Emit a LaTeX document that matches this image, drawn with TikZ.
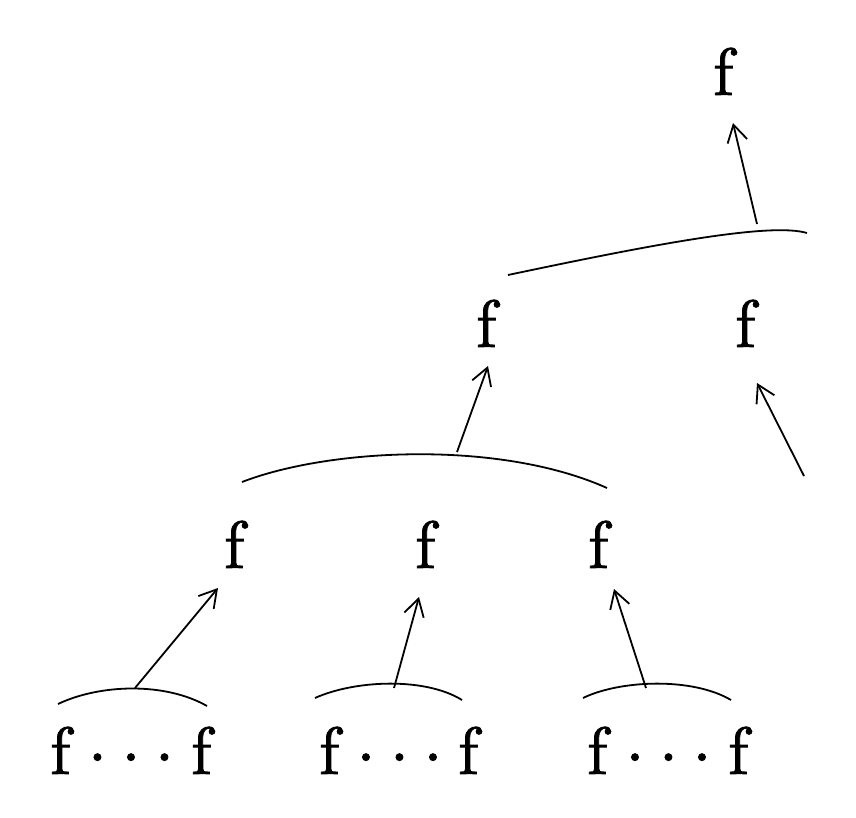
\documentclass[tikz,border=0pt]{standalone}
\usepackage{fontspec}
\setmainfont{lmroman10-regular}[Extension=.otf,FakeBold=1.2]
\usetikzlibrary{arrows.meta}
\newcommand{\rdot}{\raisebox{13.3pt}{.}}
\newcommand{\threedots}{\rdot\hspace{14.9pt}\rdot\hspace{14.9pt}\rdot}
\begin{document}
\begin{tikzpicture}[x=1pt,y=-1pt,
  lbl/.style={inner sep=0pt,outer sep=0pt,anchor=base west,font=\fontsize{67}{70}\selectfont},
  dotl/.style={inner sep=0pt,outer sep=0pt,anchor=base,font=\fontsize{67}{70}\selectfont},
  arc/.style={line width=1.8pt},
  up/.style={line width=1.8pt,-{Straight Barb[length=17pt,width=20pt,line width=1.8pt]}}]
\useasboundingbox (0,0) rectangle (856,818);
% labels
\node[lbl] (top) at (713,95) {f};
\node[lbl] (m1) at (476,347) {f};
\node[lbl] (m2) at (735,347) {f};
\node[lbl] (l1) at (224,568) {f};
\node[lbl] (l2) at (415,568) {f};
\node[lbl] (l3) at (588,568) {f};
% bottom rows
\node[lbl] (b1a) at (50,774) {f};
\node[dotl] (b1d) at (131,774) {\threedots};
\node[lbl] (b1b) at (191,774) {f};
\node[lbl] (b2a) at (319,774) {f};
\node[dotl] (b2d) at (399.5,774) {\threedots};
\node[lbl] (b2b) at (458,774) {f};
\node[lbl] (b3a) at (587,774) {f};
\node[dotl] (b3d) at (668.5,774) {\threedots};
\node[lbl] (b3b) at (728,774) {f};
% arcs
\draw[arc] (508,275) .. controls (650,245) and (770,222) .. (807,233);
\draw[arc] (242,482) .. controls (330,448) and (500,440) .. (607,488);
\draw[arc] (58,704) .. controls (100,684) and (165,682) .. (207,706);
\draw[arc] (315,698) .. controls (355,680) and (425,677) .. (462,700);
\draw[arc] (583,698) .. controls (620,680) and (692,677) .. (731,700);
% arrow ends
\coordinate (t0) at (757,224); \coordinate (h0) at (733,123);
\coordinate (t1) at (457,452); \coordinate (h1) at (488,366);
\coordinate (t2) at (804,476); \coordinate (h2) at (757,383);
\coordinate (t3) at (135,688); \coordinate (h3) at (218,588);
\coordinate (t4) at (394,688); \coordinate (h4) at (419,597);
\coordinate (t5) at (646,688); \coordinate (h5) at (614,589);
\draw[up] (t0) -- (h0);
\draw[up] (t1) -- (h1);
\draw[up] (t2) -- (h2);
\draw[up] (t3) -- (h3);
\draw[up] (t4) -- (h4);
\draw[up] (t5) -- (h5);
\end{tikzpicture}
\end{document}
